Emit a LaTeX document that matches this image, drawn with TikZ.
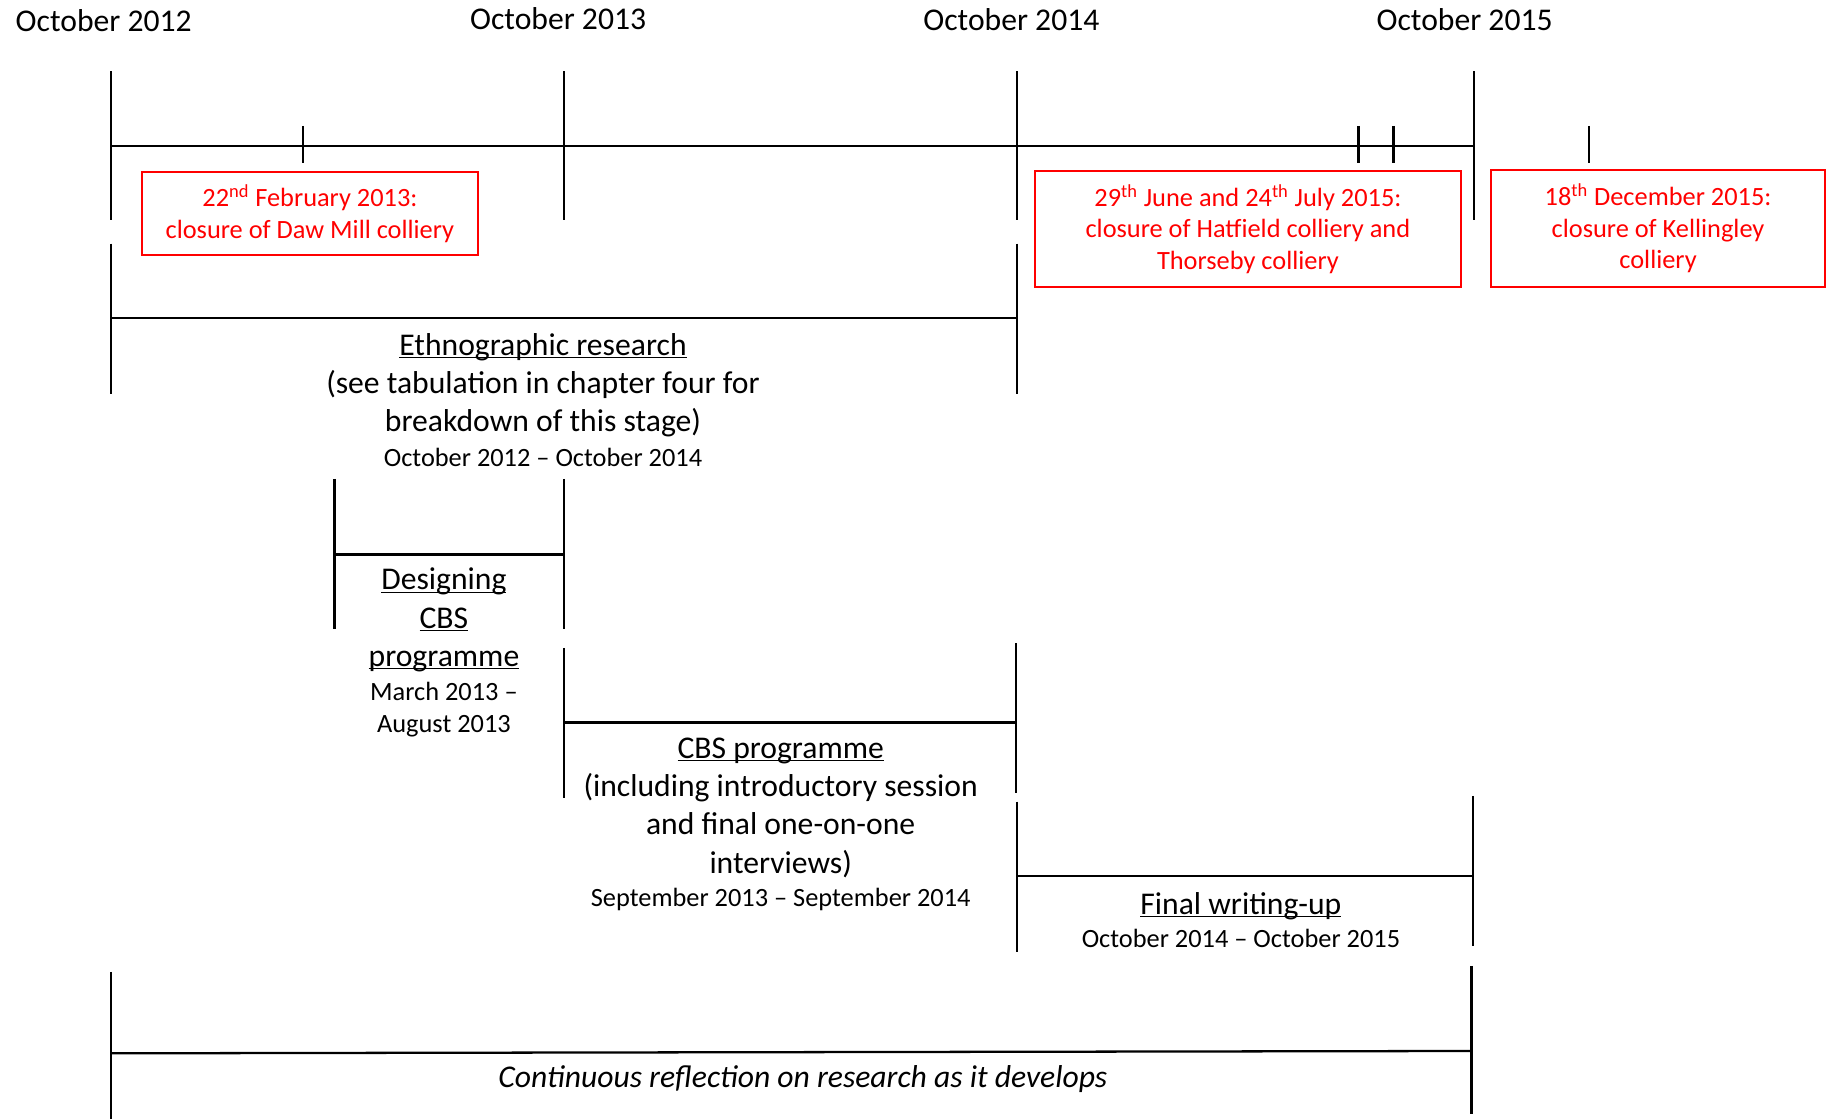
\documentclass[tikz,border=0pt]{standalone}
\usepackage{fontspec}
\setmainfont{Carlito}
\definecolor{closurered}{RGB}{255,0,0}
\newcommand{\ul}[1]{\underline{\smash{#1}}}

\begin{document}
\begin{tikzpicture}[x=0.023304cm, y=-0.023304cm, line width=1.3pt,
	year/.style={font=\fontsize{18}{22}\selectfont},
	phase/.style={align=center, font=\fontsize{18}{21.8}\selectfont},
	period/.style={align=center, font=\fontsize{15}{18.5}\selectfont},
	closure/.style={draw=closurered, text=closurered, line width=1.2pt,
		align=center, inner sep=0pt, font=\fontsize{15}{18}\selectfont}]
\useasboundingbox (0,0) rectangle (1568,960);
%========================
% Top: years and main line
%========================
\node[year] (oct12) at (89,18) {October 2012};
\node[year] (oct13) at (479,16) {October 2013};
\node[year] (oct14) at (868,17) {October 2014};
\node[year] (oct15) at (1257,17) {October 2015};

% main line
\draw (95,125) -- (1265,125);
\foreach \x in {95,484,873,1265}
	\draw (\x,61) -- (\x,189);
% closure dates
\foreach \x in {260,1166,1196,1364}
	\draw (\x,108) -- (\x,140);

% closures
\node[closure, minimum width=6.712cm, minimum height=1.655cm] (dawmill) at (266,183.5)
	{22\textsuperscript{nd} February 2013:\\closure of Daw Mill colliery};
\node[closure, minimum width=8.529cm, minimum height=2.307cm] (hatfield) at (1071,196.5)
	{29\textsuperscript{th} June and 24\textsuperscript{th} July 2015:\\closure of Hatfield colliery and\\Thorseby colliery};
\node[closure, minimum width=6.665cm, minimum height=2.330cm] (kellingley) at (1423,196)
	{18\textsuperscript{th} December 2015:\\closure of Kellingley\\colliery};

%========================
% Stages
%========================
% ethnographic research
\draw (95,209) -- (95,338);
\draw (873,209) -- (873,338);
\draw (95,273) -- (873,273);
\node[phase] (ethno) at (466,340) {\ul{Ethnographic research}\\(see tabulation in chapter four for\\breakdown of this stage)};
\node[period] (ethnodate) at (466,393) {October 2012 -- October 2014};

% designing CBS
\draw (287,411) -- (287,540);
\draw (484,411) -- (484,540);
\draw (287,476) -- (484,476);
\node[phase] (design) at (381,540.5) {\ul{Designing}\\\ul{CBS}\\\ul{programme}};
\node[period] (designdate) at (381,609) {March 2013 --\\August 2013};

% CBS programme
\draw (484,556) -- (484,685);
\draw (872,552) -- (872,681);
\draw (484,620) -- (872,620);
\node[phase] (cbs) at (670,702) {\ul{CBS programme}\\(including introductory session\\and final one-on-one\\interviews)};
\node[period] (cbsdate) at (670,772) {September 2013 -- September 2014};

% writing-up
\draw (873,688) -- (873,817);
\draw (1264,683) -- (1264,812);
\draw (873,752) -- (1264,752);
\node[phase] (writing) at (1065,786) {\ul{Final writing-up}};
\node[period] (writingdate) at (1065,805) {October 2014 -- October 2015};

% reflection
\draw (95,834) -- (95,960);
\draw (1263,829) -- (1263,956);
\draw (95,904) -- (1263,902);
\node[phase, font=\fontsize{18}{21.8}\selectfont\itshape] (reflect) at (689,926) {Continuous reflection on research as it develops};
\end{tikzpicture}
\end{document}
